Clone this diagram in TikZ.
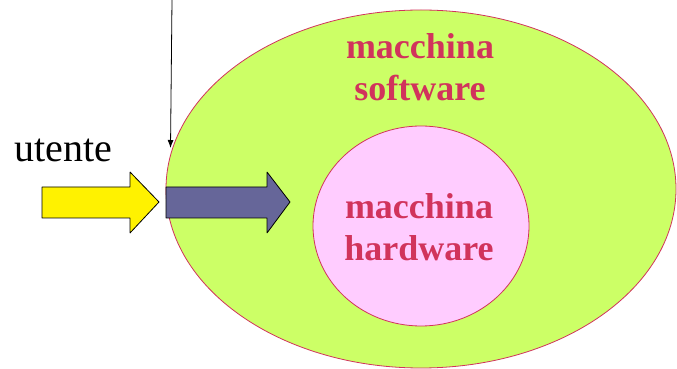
\documentclass[tikz,border=0pt]{standalone}
\usepackage{fontspec}
\setmainfont{Liberation Serif}
\usetikzlibrary{arrows,arrows.meta,shapes}
\definecolor{swfill}{rgb}{0.8,1.0,0.4}
\definecolor{hwfill}{rgb}{1.0,0.8,1.0}
\definecolor{edgecol}{rgb}{0.82,0.2,0.36}
\definecolor{blockcol}{rgb}{0.4,0.4,0.6}

\begin{document}
\begin{tikzpicture}[>=latex,line join=bevel,
  machine/.style={ellipse,draw=edgecol,line width=0.8bp,inner sep=0pt},
  machinelabel/.style={align=center,inner sep=0pt,text=edgecol,font=\fontsize{36bp}{42bp}\selectfont\bfseries},
  block/.style={draw=black,line width=0.8bp}]
  \useasboundingbox (0bp,0bp) rectangle (677bp,369bp);
%%
  % Node: sw
  \node [machine,fill=swfill,minimum width=510bp,minimum height=358bp] (sw) at (421bp,180bp) {};
  \node [machinelabel] (swlabel) at (420bp,302.25bp) {macchina\\software};
  % Node: hw
  \node [machine,fill=hwfill,minimum width=216bp,minimum height=200bp] (hw) at (421bp,143bp) {};
  \node [machinelabel] (hwlabel) at (419bp,142.25bp) {macchina\\hardware};
  % Node: utente
  \node [anchor=base west,inner sep=0pt,font=\fontsize{40bp}{48bp}\selectfont] (utente) at (14bp,207bp) {utente};
  % Edge: utente -> sw
  \draw [block,fill=yellow] (42bp,182bp) -- (130bp,182bp) -- (130bp,197bp) -- (159bp,167bp) -- (130bp,136bp) -- (130bp,151bp) -- (42bp,151bp) -- cycle;
  % Edge: sw -> hw
  \draw [block,fill=blockcol] (166bp,182bp) -- (267bp,182bp) -- (267bp,197bp) -- (290bp,167bp) -- (267bp,136bp) -- (267bp,151bp) -- (166bp,151bp) -- cycle;
  % Edge: pointer -> sw
  \coordinate (src) at (172bp,369bp);
  \coordinate (dst) at (170.5bp,221bp);
  \draw [-{Latex[length=8bp,width=6bp]},line width=0.8bp] (src) -- (dst);
%
\end{tikzpicture}
\end{document}
